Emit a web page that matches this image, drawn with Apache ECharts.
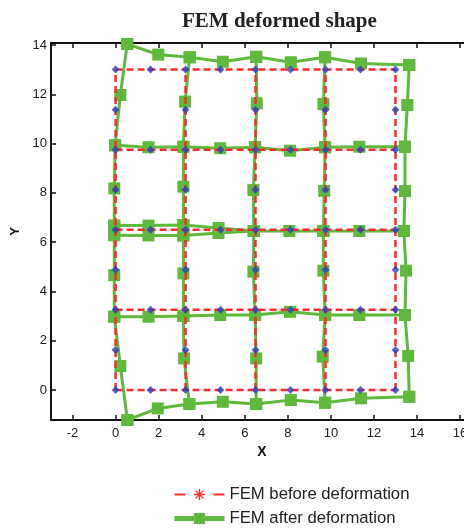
<!DOCTYPE html>
<html><head><meta charset="utf-8">
<script src="https://cdn.jsdelivr.net/npm/echarts@6/dist/echarts.min.js"></script>
<style>html,body{margin:0;padding:0;background:#fff}#c{width:464px;height:528px}</style>
</head><body><div id="c"></div>
<script>
// ---- tick labels ----
const xTicks = [-2, 0, 2, 4, 6, 8, 10, 12, 14, 16];
const yTicks = [0, 2, 4, 6, 8, 10, 12, 14];

// ---- undeformed mesh (8-node quadrilateral elements) ----
const meshCoords = [0, 1.625, 3.25, 4.875, 6.5, 8.125, 9.75, 11.375, 13];
const cornerCoords = [0, 3.25, 6.5, 9.75, 13];

// ---- deformed mesh: element edge rows (9 nodes each, left to right) ----
const rowY0 = [[0.55,-1.22],[1.96,-0.75],[3.43,-0.57],[4.98,-0.48],[6.53,-0.57],[8.14,-0.41],[9.73,-0.52],[11.40,-0.34],[13.64,-0.28]];
const rowY3 = [[-0.06,2.97],[1.53,2.97],[3.15,3.00],[4.86,3.04],[6.48,3.04],[8.10,3.17],[9.73,3.04],[11.32,3.04],[13.44,3.04]];
const rowY6lower = [[-0.06,6.28],[1.53,6.27],[3.15,6.27],[4.78,6.37],[6.42,6.45],[8.07,6.45],[9.65,6.45],[11.32,6.45],[13.39,6.45]];
const rowY6upper = [[-0.06,6.67],[1.53,6.67],[3.15,6.69],[4.78,6.57],[6.42,6.45]];
const rowY9 = [[-0.02,9.93],[1.53,9.85],[3.15,9.87],[4.86,9.81],[6.48,9.85],[8.10,9.71],[9.73,9.85],[11.32,9.87],[13.44,9.87]];
const rowY13 = [[0.54,14.04],[1.98,13.61],[3.44,13.50],[4.98,13.32],[6.53,13.52],[8.14,13.30],[9.73,13.50],[11.40,13.25],[13.64,13.19]];
// ---- deformed mesh: mid-side nodes of the vertical edges (bottom to top) ----
const colMid0 = [[0.22,0.97],[-0.06,4.66],[-0.06,8.18],[0.22,11.97]];
const colMid3 = [[3.18,1.28],[3.15,4.73],[3.15,8.25],[3.23,11.70]];
const colMid6 = [[6.53,1.28],[6.40,4.80],[6.40,8.11],[6.56,11.63]];
const colMid9 = [[9.62,1.35],[9.65,4.84],[9.69,8.08],[9.65,11.60]];
const colMid13 = [[13.59,1.38],[13.49,4.84],[13.44,8.07],[13.55,11.56]];

const nameBefore = 'FEM before deformation';
const nameAfter = 'FEM after deformation';
const RED = '#ff2a2a', GREEN = '#5fb93c', BLUE = '#2d3fc2';
const FONT = 'Liberation Sans, Arial, sans-serif';
const ASTERISK = 'path://M4.4,0L5.6,0L5.6,10L4.4,10Z M0,4.4L10,4.4L10,5.6L0,5.6Z M1.1,1.9L1.9,1.1L8.9,8.1L8.1,8.9Z M8.1,1.1L8.9,1.9L1.9,8.9L1.1,8.1Z';

const series = [];
function greenLine(data) {
  series.push({type:'line', name:nameAfter, data:data, symbol:'rect', symbolSize:12, showSymbol:true,
    clip:false, z:2, lineStyle:{color:GREEN, width:3}, itemStyle:{color:GREEN},
    emphasis:{disabled:true}, animation:false});
}
function redLine(data) {
  series.push({type:'line', name:nameBefore, data:data, symbol:ASTERISK, symbolSize:9, showSymbol:false,
    clip:false, z:3, lineStyle:{color:RED, width:2.5, type:[7,4]}, itemStyle:{color:RED},
    emphasis:{disabled:true}, animation:false});
}
// green rows
[rowY0, rowY3, rowY6lower, rowY6upper, rowY9, rowY13].forEach(greenLine);
// green columns
[colMid0, colMid3, colMid6, colMid9, colMid13].forEach(function (mid, k) {
  const c = 2 * k;
  const up = rowY6upper[c] || rowY6lower[c];
  greenLine([rowY0[c], mid[0], rowY3[c], mid[1], rowY6lower[c]]);
  greenLine([up, mid[2], rowY9[c], mid[3], rowY13[c]]);
});
// red undeformed lines
const lo = meshCoords[0], hi = meshCoords[meshCoords.length - 1];
cornerCoords.forEach(function (c) { redLine([[lo, c], [hi, c]]); });
cornerCoords.forEach(function (c) { redLine([[c, lo], [c, hi]]); });
// blue undeformed nodes
const nodes = [];
meshCoords.forEach(function (x) {
  meshCoords.forEach(function (y) {
    if (cornerCoords.indexOf(x) >= 0 || cornerCoords.indexOf(y) >= 0) nodes.push([x, y]);
  });
});
series.push({type:'scatter', name:'nodes', data:nodes, symbol:'diamond', symbolSize:8, clip:false, z:4,
  itemStyle:{color:BLUE}, emphasis:{disabled:true}, animation:false});

const axisLineStyle = {color:'#111', width:2};
const tickStyle = {color:'#111', width:1.5};
const chart = echarts.init(document.getElementById('c'), null, {renderer:'canvas'});
chart.setOption({
  animation: false,
  backgroundColor: '#fff',
  title: {text:'FEM deformed shape', left:177, top:6,
    textStyle:{fontFamily:'Liberation Serif, Times New Roman, serif', fontWeight:'bold', fontSize:21, color:'#222'}},
  grid: {left:51, top:43, right:-9, bottom:108, containLabel:false, outerBoundsMode:'none'},
  legend: {orient:'vertical', left:172, top:486, padding:0, itemWidth:50, itemHeight:14, itemGap:7, selectedMode:false,
    textStyle:{fontFamily:FONT, fontSize:16.7, lineHeight:17, color:'#222'},
    data:[{name:nameBefore, lineStyle:{type:[11,28], width:2}}, {name:nameAfter, lineStyle:{width:5}}]},
  xAxis: [
    {type:'value', min:-3, max:16.6, position:'bottom',
     axisLine:{show:true, onZero:false, lineStyle:axisLineStyle},
     axisTick:{show:true, inside:true, length:5, customValues:xTicks, lineStyle:tickStyle},
     axisLabel:{customValues:xTicks, margin:7, fontSize:13, color:'#222', fontFamily:FONT},
     splitLine:{show:false},
     name:'X', nameLocation:'middle', nameGap:24,
     nameTextStyle:{fontWeight:'bold', fontSize:14, color:'#111', fontFamily:FONT}},
    {type:'value', min:-3, max:16.6, position:'top',
     axisLine:{show:true, onZero:false, lineStyle:axisLineStyle},
     axisTick:{show:true, inside:true, length:5, customValues:xTicks, lineStyle:tickStyle},
     axisLabel:{show:false}, splitLine:{show:false}}
  ],
  yAxis: {type:'value', min:-1.22, max:14.08,
    axisLine:{show:true, onZero:false, lineStyle:axisLineStyle},
    axisTick:{show:true, inside:true, length:5, customValues:yTicks, lineStyle:tickStyle},
    axisLabel:{customValues:yTicks, margin:4, fontSize:13, color:'#222', fontFamily:FONT},
    splitLine:{show:false},
    name:'Y', nameLocation:'middle', nameGap:21, nameRotate:90,
    nameTextStyle:{fontWeight:'bold', fontSize:13, color:'#111', fontFamily:FONT}},
  series: series
});
</script>
</body></html>
